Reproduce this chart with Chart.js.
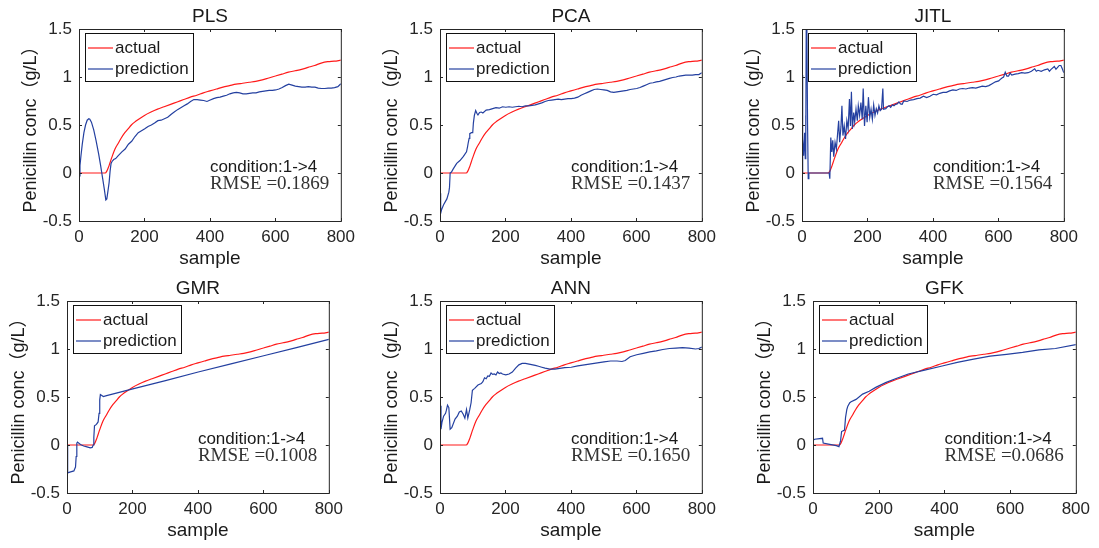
<!DOCTYPE html>
<html>
<head>
<meta charset="utf-8">
<script src="https://cdn.jsdelivr.net/npm/chart.js@4.4.1/dist/chart.umd.min.js"></script>
<style>
  html, body { margin: 0; padding: 0; background: #fff; }
  body { width: 1099px; height: 548px; position: relative; overflow: hidden; }
  canvas { position: absolute; }
</style>
</head>
<body>
<canvas id="c0"></canvas>
<canvas id="c1"></canvas>
<canvas id="c2"></canvas>
<canvas id="c3"></canvas>
<canvas id="c4"></canvas>
<canvas id="c5"></canvas>
<script>
// tick labels
const sampleTicks = [0, 200, 400, 600, 800];
const concTicks = [-0.5, 0, 0.5, 1, 1.5];

const panelTitles = ['PLS', 'PCA', 'JITL', 'GMR', 'ANN', 'GFK'];
const rmseLabels = ['0.1869', '0.1437', '0.1564', '0.1008', '0.1650', '0.0686'];

// actual penicillin concentration (same in every panel)
const actualX = [0, 80, 85, 90, 95, 100, 110, 120, 130, 140, 150, 160, 170, 180, 200, 220, 240, 260, 280, 300,
  320, 340, 360, 380, 400, 420, 440, 460, 480, 500, 520, 540, 560, 580, 600, 620, 640, 660, 680, 700,
  720, 740, 760, 780, 800];
const actualY = [0, 0, 0.02, 0.06, 0.11, 0.16, 0.25, 0.31, 0.37, 0.42, 0.46, 0.50, 0.53, 0.555, 0.60, 0.635, 0.665, 0.69, 0.715, 0.74,
  0.765, 0.79, 0.81, 0.835, 0.855, 0.875, 0.895, 0.91, 0.925, 0.935, 0.945, 0.955, 0.97, 0.99, 1.01, 1.03, 1.05, 1.065, 1.08, 1.10,
  1.12, 1.145, 1.16, 1.165, 1.175];

// predictions
const plsX = [0, 3, 6, 10, 15, 20, 25, 30, 33, 38, 45, 52, 60, 66, 72, 77, 82, 85, 88, 92, 95, 98, 101, 106, 112, 120,
  131, 141, 151, 161, 171, 181, 191, 201, 211, 221, 231, 241, 251, 261, 271, 281, 291, 301, 311, 321, 331, 341, 351, 361,
  371, 381, 391, 401, 411, 421, 431, 441, 451, 461, 471, 481, 491, 501, 511, 521, 531, 541, 551, 561, 571, 581, 591, 601,
  611, 621, 631, 641, 651, 661, 671, 681, 691, 701, 711, 721, 731, 741, 751, 761, 771, 781, 791, 800];
const plsY = [-0.03, 0.08, 0.18, 0.30, 0.42, 0.50, 0.55, 0.565, 0.56, 0.53, 0.45, 0.34, 0.20, 0.08, -0.05, -0.16, -0.28, -0.27, -0.20, -0.10, 0.02, 0.10, 0.12, 0.14, 0.15, 0.18,
  0.22, 0.25, 0.30, 0.33, 0.38, 0.42, 0.44, 0.46, 0.485, 0.50, 0.52, 0.545, 0.55, 0.565, 0.58, 0.61, 0.635, 0.66, 0.68, 0.70, 0.72, 0.745, 0.765, 0.765,
  0.76, 0.755, 0.745, 0.76, 0.775, 0.785, 0.79, 0.80, 0.81, 0.825, 0.835, 0.84, 0.835, 0.825, 0.825, 0.83, 0.835, 0.835, 0.845, 0.85, 0.855, 0.86, 0.86, 0.865,
  0.875, 0.89, 0.91, 0.925, 0.915, 0.905, 0.90, 0.895, 0.895, 0.90, 0.895, 0.895, 0.885, 0.88, 0.88, 0.885, 0.885, 0.89, 0.90, 0.93];

const pcaX = [0, 2, 5, 11, 21, 27, 29, 31, 35, 41, 51, 61, 71, 81, 84, 86, 89, 91, 96, 100, 102, 105, 109, 113, 116, 121,
  126, 131, 141, 151, 161, 171, 181, 191, 201, 211, 221, 231, 241, 251, 261, 271, 281, 291, 301, 311, 321, 331, 341, 351,
  361, 371, 381, 391, 401, 411, 421, 431, 441, 451, 461, 471, 481, 491, 501, 511, 521, 531, 541, 551, 561, 571, 581, 591,
  601, 611, 621, 631, 641, 651, 661, 671, 681, 691, 701, 711, 721, 731, 741, 751, 761, 771, 781, 791, 800];
const pcaY = [-0.21, -0.42, -0.38, -0.33, -0.27, -0.20, -0.15, 0.0, 0.01, 0.045, 0.10, 0.13, 0.17, 0.22, 0.27, 0.31, 0.36, 0.41, 0.42, 0.42, 0.52, 0.60, 0.65, 0.62, 0.605, 0.63,
  0.635, 0.625, 0.655, 0.66, 0.67, 0.68, 0.675, 0.69, 0.685, 0.69, 0.685, 0.69, 0.695, 0.69, 0.70, 0.70, 0.705, 0.71, 0.72, 0.73, 0.745, 0.755, 0.76, 0.765,
  0.77, 0.765, 0.77, 0.775, 0.775, 0.78, 0.79, 0.81, 0.825, 0.84, 0.855, 0.87, 0.875, 0.87, 0.865, 0.86, 0.845, 0.84, 0.845, 0.85, 0.855, 0.86, 0.87, 0.875,
  0.88, 0.89, 0.905, 0.92, 0.935, 0.94, 0.95, 0.955, 0.965, 0.975, 0.985, 0.995, 1.0, 1.01, 1.015, 1.02, 1.02, 1.02, 1.025, 1.025, 1.045];

const jitlX = [0, 1, 3, 5, 8, 10, 11, 12, 13, 15, 17, 19, 21, 83, 85, 88, 91, 94, 97, 101, 105, 109, 112, 115, 119, 122,
  125, 129, 133, 137, 141, 145, 148, 151, 154, 158, 161, 165, 169, 172, 176, 180, 184, 187, 191, 195, 199, 203, 207, 211,
  215, 219, 223, 227, 231, 235, 239, 243, 247, 249, 256, 261, 266, 271, 276, 281, 286, 291, 296, 301, 306, 311, 321, 331,
  341, 351, 361, 371, 381, 391, 401, 411, 421, 431, 441, 451, 461, 471, 481, 491, 501, 511, 521, 531, 541, 551, 561, 571,
  581, 591, 601, 606, 611, 616, 621, 626, 631, 636, 641, 651, 661, 671, 681, 691, 701, 711, 716, 721, 731, 741, 751, 756,
  761, 771, 776, 781, 786, 791, 796, 800];
const jitlY = [0, 1.02, 0.35, 0.18, 0.42, 0.15, 0.60, 0.30, 1.6, 1.46, 0.50, -0.06, 0, 0, -0.06, 0.37, 0.22, 0.34, 0.17, 0.32, 0.25, 0.42, 0.545, 0.32, 0.48, 0.70,
  0.39, 0.49, 0.355, 0.545, 0.46, 0.77, 0.49, 0.845, 0.46, 0.63, 0.53, 0.665, 0.545, 0.70, 0.60, 0.735, 0.56, 0.88, 0.49, 0.70, 0.53, 0.79, 0.58, 0.665,
  0.56, 0.71, 0.60, 0.67, 0.625, 0.70, 0.65, 0.665, 0.88, 0.665, 0.67, 0.69, 0.70, 0.685, 0.71, 0.70, 0.715, 0.72, 0.74, 0.72, 0.715, 0.75, 0.745, 0.76,
  0.765, 0.775, 0.78, 0.80, 0.785, 0.80, 0.82, 0.815, 0.83, 0.84, 0.84, 0.855, 0.865, 0.86, 0.875, 0.88, 0.875, 0.885, 0.89, 0.885, 0.895, 0.905, 0.90, 0.91,
  0.93, 0.95, 0.96, 0.975, 0.99, 1.0, 1.05, 1.01, 1.01, 1.04, 1.02, 1.03, 1.035, 1.045, 1.04, 1.045, 1.06, 1.085, 1.06, 1.07, 1.06, 1.075, 1.085, 1.06,
  1.08, 1.11, 1.08, 1.10, 1.12, 1.12, 1.08, 1.045];

const gmrX = [0, 2, 11, 21, 26, 28, 30, 32, 41, 51, 61, 71, 77, 80, 82, 84, 90, 95, 98, 100, 102, 111, 121, 201, 301, 401, 501, 601, 701, 800];
const gmrY = [0, -0.29, -0.28, -0.27, -0.23, -0.12, 0.02, 0.03, 0.005, -0.01, -0.02, -0.03, -0.025, 0.0, 0.08, 0.20, 0.215, 0.24, 0.33, 0.47, 0.525, 0.505, 0.515, 0.585, 0.67, 0.76, 0.845, 0.93, 1.015, 1.10];

const annX = [0, 3, 6, 11, 17, 19, 23, 27, 31, 36, 46, 53, 59, 65, 71, 76, 81, 85, 91, 95, 99, 106, 116, 126, 131, 136,
  141, 146, 151, 156, 161, 166, 171, 176, 181, 186, 191, 201, 211, 221, 231, 241, 251, 261, 276, 291, 301, 311, 321, 336,
  351, 361, 381, 401, 421, 441, 461, 481, 501, 521, 541, 556, 566, 581, 601, 621, 641, 661, 681, 701, 721, 741, 761, 781, 791, 800];
const annY = [0.41, 0.165, 0.235, 0.30, 0.33, 0.355, 0.415, 0.39, 0.165, 0.18, 0.27, 0.30, 0.345, 0.355, 0.32, 0.28, 0.37, 0.28, 0.37, 0.44, 0.57, 0.59, 0.625, 0.64, 0.66, 0.70,
  0.69, 0.72, 0.715, 0.75, 0.735, 0.74, 0.73, 0.76, 0.745, 0.75, 0.74, 0.73, 0.74, 0.76, 0.80, 0.835, 0.85, 0.85, 0.84, 0.83, 0.82, 0.81, 0.80, 0.79,
  0.79, 0.795, 0.805, 0.81, 0.825, 0.835, 0.845, 0.855, 0.865, 0.875, 0.875, 0.87, 0.88, 0.92, 0.94, 0.955, 0.97, 0.98, 0.995, 1.005, 1.01, 1.015, 1.01, 1.0, 1.005, 1.02];

const gfkX = [0, 5, 29, 31, 51, 71, 79, 84, 87, 96, 99, 103, 106, 112, 116, 131, 151, 171, 191, 221, 251, 290, 340, 390, 439, 489, 539, 589, 638, 688, 738, 800];
const gfkY = [0.05, 0.06, 0.07, 0.02, 0.007, -0.007, -0.017, 0.045, 0.14, 0.155, 0.285, 0.37, 0.405, 0.44, 0.45, 0.475, 0.53, 0.56, 0.60, 0.65, 0.69, 0.74, 0.78, 0.82, 0.86, 0.895, 0.925, 0.945, 0.965, 0.99, 1.005, 1.045];

const predX = [plsX, pcaX, jitlX, gmrX, annX, gfkX];
const predY = [plsY, pcaY, jitlY, gmrY, annY, gfkY];

// plot area of each panel on the page: left, top, right, bottom
const plotBoxes = [
  [79, 29, 345, 221], [440, 29, 706, 221], [802, 29, 1068, 221],
  [67, 301, 333, 493], [440, 301, 706, 493], [813, 301, 1080, 493]
];

const FONT = '"Liberation Sans", Arial, sans-serif';
const SERIF = '"Liberation Serif", "Times New Roman", serif';
const INK = '#262626';
const RED = '#ff1a1a';
const BLUE = '#2440a0';

Chart.defaults.font.family = FONT;
Chart.defaults.font.size = 17;
Chart.defaults.color = INK;

function pts(xs, ys) {
  return xs.map((x, i) => ({ x: x, y: ys[i] }));
}

// MATLAB style box, inward ticks, title, legend and text
const matlabLook = {
  id: 'matlabLook',
  afterDatasetsDraw(chart, args, opts) {
    const { ctx, chartArea: a, scales: { x, y } } = chart;
    ctx.save();
    ctx.strokeStyle = INK;
    ctx.lineWidth = 1;
    ctx.strokeRect(a.left + 0.5, a.top + 0.5, a.right - a.left, a.bottom - a.top);

    ctx.beginPath();
    sampleTicks.forEach(v => {
      const px = Math.round(x.getPixelForValue(v)) + 0.5;
      ctx.moveTo(px, a.bottom); ctx.lineTo(px, a.bottom - 3);
      ctx.moveTo(px, a.top); ctx.lineTo(px, a.top + 3);
    });
    concTicks.forEach(v => {
      const py = Math.round(y.getPixelForValue(v)) + 0.5;
      ctx.moveTo(a.left, py); ctx.lineTo(a.left + 3, py);
      ctx.moveTo(a.right, py); ctx.lineTo(a.right - 3, py);
    });
    ctx.stroke();

    // title
    ctx.fillStyle = '#1a1a1a';
    ctx.font = '19px ' + FONT;
    ctx.textAlign = 'center';
    ctx.textBaseline = 'alphabetic';
    ctx.fillText(opts.title, (a.left + a.right) / 2, a.top - 7);

    // legend
    ctx.font = '17px ' + FONT;
    const lx = a.left + 6, ly = a.top + 4;
    ctx.fillStyle = '#fff';
    ctx.fillRect(lx, ly, 108, 48);
    ctx.strokeStyle = '#111';
    ctx.strokeRect(lx + 0.5, ly + 0.5, 108, 48);
    chart.data.datasets.forEach((ds, i) => {
      const ry = ly + 15 + i * 21;
      ctx.strokeStyle = ds.borderColor;
      ctx.lineWidth = ds.borderWidth;
      ctx.beginPath();
      ctx.moveTo(lx + 3, ry); ctx.lineTo(lx + 28, ry);
      ctx.stroke();
      ctx.fillStyle = '#1a1a1a';
      ctx.textAlign = 'left';
      ctx.textBaseline = 'middle';
      ctx.fillText(ds.label, lx + 30, ry);
    });

    // annotation
    const tx = x.getPixelForValue(400);
    ctx.textAlign = 'left';
    ctx.textBaseline = 'alphabetic';
    ctx.fillStyle = '#1a1a1a';
    ctx.font = '17px ' + FONT;
    ctx.fillText('condition:1->4', tx, y.getPixelForValue(0.01));
    ctx.font = '19px ' + SERIF;
    ctx.fillStyle = '#333';
    ctx.fillText('RMSE =' + opts.rmse, tx, y.getPixelForValue(-0.165));
    ctx.restore();
  }
};

plotBoxes.forEach((box, i) => {
  const [L, T, R, B] = box;
  const canvas = document.getElementById('c' + i);
  const padLeft = 80, padTop = 29, padRight = 16, axisH = 50;
  canvas.width = (R - L) + padLeft + padRight;
  canvas.height = (B - T) + padTop + axisH;
  canvas.style.left = (L - padLeft) + 'px';
  canvas.style.top = (T - padTop) + 'px';

  new Chart(canvas, {
    type: 'line',
    data: {
      datasets: [
        {
          label: 'actual',
          data: pts(actualX, actualY),
          borderColor: RED,
          borderWidth: 1.2,
          pointRadius: 0,
          cubicInterpolationMode: 'monotone',
          order: 1
        },
        {
          label: 'prediction',
          data: pts(predX[i], predY[i]),
          borderColor: BLUE,
          borderWidth: 1.2,
          pointRadius: 0,
          tension: 0,
          order: 0
        }
      ]
    },
    options: {
      responsive: false,
      animation: false,
      events: [],
      layout: { padding: { left: 0, top: padTop, right: padRight, bottom: 0 } },
      plugins: {
        legend: { display: false },
        tooltip: { enabled: false },
        matlabLook: { title: panelTitles[i], rmse: rmseLabels[i] }
      },
      scales: {
        x: {
          type: 'linear',
          min: 0,
          max: 800,
          afterBuildTicks: s => { s.ticks = sampleTicks.map(v => ({ value: v })); },
          afterFit: s => { s.height = axisH; },
          ticks: { padding: 6, autoSkip: false, maxRotation: 0, color: INK, callback: v => String(v) },
          grid: { display: false, drawTicks: false },
          border: { display: false },
          title: { display: true, text: 'sample', color: '#1a1a1a', font: { size: 19 }, padding: { top: 0, bottom: 1 } }
        },
        y: {
          type: 'linear',
          min: -0.5,
          max: 1.5,
          afterBuildTicks: s => { s.ticks = concTicks.map(v => ({ value: v })); },
          afterFit: s => { s.width = padLeft; },
          ticks: { padding: 7, autoSkip: false, color: INK, callback: v => String(v) },
          grid: { display: false, drawTicks: false },
          border: { display: false },
          title: {
            display: true,
            text: 'Penicillin conc（g/L）',
            color: '#1a1a1a',
            font: { family: '"Liberation Sans", Arial, "Noto Sans CJK SC", sans-serif', size: 18 },
            padding: { top: 21, bottom: 0 }
          }
        }
      }
    },
    plugins: [matlabLook]
  });
});
</script>
</body>
</html>
